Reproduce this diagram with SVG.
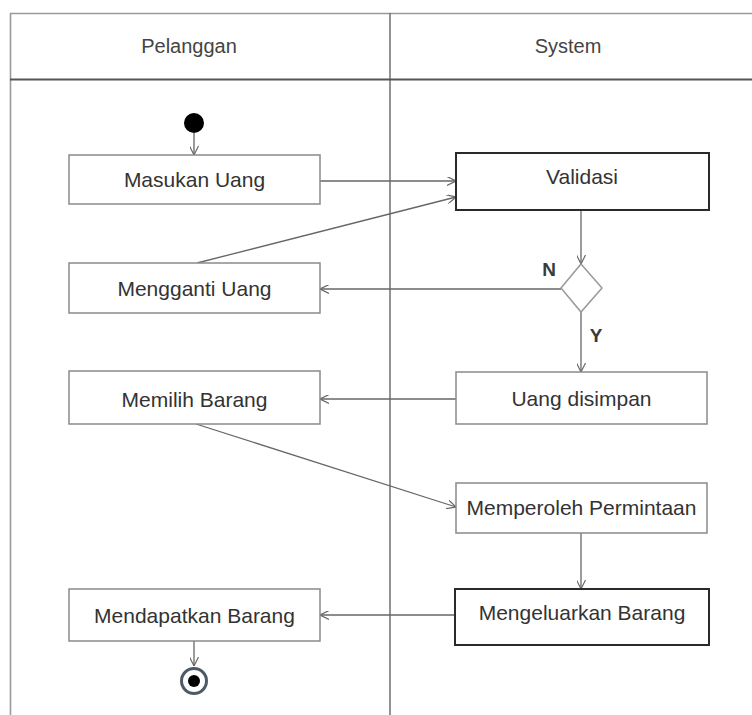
<svg xmlns="http://www.w3.org/2000/svg" width="752" height="715" viewBox="0 0 752 715">
  <style>
    .frame { stroke: #9a9a9a; stroke-width: 1.6; fill: none; }
    .lane { stroke: #666; stroke-width: 1.4; fill: none; }
    .head { stroke: #555; stroke-width: 2; fill: none; }
    .act { fill: #fff; stroke: #8a8a8a; stroke-width: 1.5; }
    .act-strong { fill: #fff; stroke: #2a2a2a; stroke-width: 2; }
    .label { font-family: "Liberation Sans", Arial, sans-serif; font-size: 21px; fill: #333; text-anchor: middle; }
    .title { font-family: "Liberation Sans", Arial, sans-serif; font-size: 20px; fill: #444; text-anchor: middle; }
    .guard { font-family: "Liberation Sans", Arial, sans-serif; font-size: 19px; font-weight: bold; fill: #3a3a3a; text-anchor: middle; }
    .flow { stroke: #666; stroke-width: 1.3; fill: none; marker-end: url(#open); }
  </style>
  <defs>
    <marker id="open" viewBox="0 0 10 10" refX="10" refY="5" markerWidth="9" markerHeight="9" markerUnits="userSpaceOnUse" orient="auto">
      <path d="M0,0 L10,5 L0,10" fill="none" stroke="#666" stroke-width="1.3"/>
    </marker>
  </defs>

  <rect width="752" height="715" fill="#fff"/>

  <!-- swimlane frame -->
  <g id="swimlanes">
    <line class="frame" x1="10" y1="13.5" x2="752" y2="13.5"/>
    <line class="frame" x1="10.5" y1="13" x2="10.5" y2="715"/>
    <line class="lane" x1="390" y1="13" x2="390" y2="715"/>
    <line class="head" x1="10" y1="79.5" x2="752" y2="79.5"/>
    <text class="title" x="189" y="53">Pelanggan</text>
    <text class="title" x="568" y="53">System</text>
  </g>

  <!-- connectors -->
  <g id="connectors">
    <line class="flow" x1="194" y1="133" x2="194" y2="155"/>
    <line class="flow" x1="320" y1="181" x2="456" y2="181"/>
    <line class="flow" x1="197" y1="263" x2="456" y2="197"/>
    <line class="flow" x1="581" y1="210" x2="581" y2="264"/>
    <line class="flow" x1="561" y1="289" x2="320" y2="289"/>
    <line class="flow" x1="581" y1="312" x2="581" y2="372"/>
    <line class="flow" x1="456" y1="399" x2="320" y2="399"/>
    <line class="flow" x1="196" y1="424" x2="456" y2="507"/>
    <line class="flow" x1="581" y1="533" x2="581" y2="589"/>
    <line class="flow" x1="455" y1="615" x2="320" y2="615"/>
    <line class="flow" x1="194" y1="641" x2="194" y2="666"/>
  </g>

  <g id="start">
    <circle cx="194" cy="123" r="10" fill="#000"/>
  </g>

  <g id="masukan-uang">
    <rect class="act" x="69" y="155" width="251" height="49"/>
    <text class="label" x="194.5" y="187">Masukan Uang</text>
  </g>

  <g id="validasi">
    <rect class="act-strong" x="456" y="153" width="253" height="57"/>
    <text class="label" x="582" y="184">Validasi</text>
  </g>

  <g id="decision">
    <polygon points="581,264 602,288 581,312 561,288" fill="#fff" stroke="#999" stroke-width="1.5"/>
    <text class="guard" x="549" y="276">N</text>
    <text class="guard" x="596" y="342">Y</text>
  </g>

  <g id="mengganti-uang">
    <rect class="act" x="69" y="263" width="251" height="50"/>
    <text class="label" x="194.5" y="296">Mengganti Uang</text>
  </g>

  <g id="uang-disimpan">
    <rect class="act" x="456" y="372" width="251" height="52"/>
    <text class="label" x="581.5" y="406">Uang disimpan</text>
  </g>

  <g id="memilih-barang">
    <rect class="act" x="69" y="371" width="251" height="53"/>
    <text class="label" x="194.5" y="407">Memilih Barang</text>
  </g>

  <g id="memperoleh-permintaan">
    <rect class="act" x="456" y="483" width="251" height="50"/>
    <text class="label" x="581.5" y="515">Memperoleh Permintaan</text>
  </g>

  <g id="mengeluarkan-barang">
    <rect class="act-strong" x="455" y="589" width="254" height="56"/>
    <text class="label" x="582" y="620">Mengeluarkan Barang</text>
  </g>

  <g id="mendapatkan-barang">
    <rect class="act" x="69" y="589" width="251" height="52"/>
    <text class="label" x="194.5" y="623">Mendapatkan Barang</text>
  </g>

  <g id="end">
    <circle cx="194" cy="681" r="12.5" fill="#fff" stroke="#4d5b68" stroke-width="3"/>
    <circle cx="194" cy="681" r="6" fill="#000"/>
  </g>
</svg>
